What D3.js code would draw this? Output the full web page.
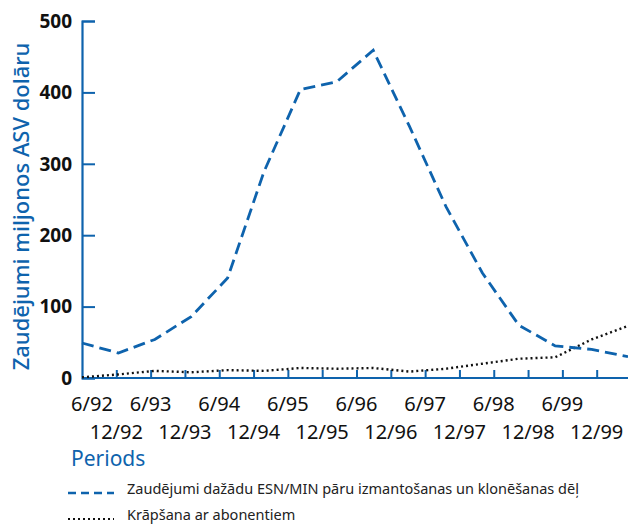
<!DOCTYPE html>
<html>
<head>
<meta charset="utf-8">
<script src="https://cdn.jsdelivr.net/npm/d3@7"></script>
<style>
  html, body { margin: 0; padding: 0; background: #fff; }
  svg { display: block; font-family: "Noto Sans", sans-serif; }
</style>
</head>
<body>
<div id="chart"></div>
<script>
// Half-year periods, June and December, 1992-1999.
const periods = ['6/92','12/92','6/93','12/93','6/94','12/94','6/95','12/95',
                 '6/96','12/96','6/97','12/97','6/98','12/98','6/99','12/99'];
// Losses from ESN/MIN pair use and cloning (million USD).
const cloningLoss = [49, 35, 54, 86, 140, 289, 404, 415, 459, 352, 240, 147, 74, 45, 40, 30];
// Subscription fraud (million USD).
const subscriptionFraud = [1, 5, 10, 8, 11, 10, 14, 13, 14, 9, 13, 20, 27, 29, 54, 73];
const yTicks = [0, 100, 200, 300, 400, 500];

const seriesNames = [
  'Zaudējumi dažādu ESN/MIN pāru izmantošanas un klonēšanas dēļ',
  'Krāpšana ar abonentiem'
];

(function(){
  const width = 628, height = 528;
  const blue = '#0e63ad';
  const svg = d3.select('#chart').append('svg')
    .attr('width', width).attr('height', height);

  const x0 = 82, x1 = 628, yTop = 21, yBottom = 378;

  // data points spread across the full plot width
  const x = d3.scaleLinear().domain([0, periods.length - 1]).range([x0, x1]);
  // tick slots on the axis are slightly narrower than the data spacing
  const xTick = d3.scaleLinear().domain([0, periods.length]).range([x0, 631]);
  const y = d3.scaleLinear().domain([0, 500]).range([yBottom, yTop]);

  // y axis
  const yAxis = d3.axisRight(y).tickValues(yTicks).tickSize(13).tickFormat('');
  const gy = svg.append('g').attr('transform', `translate(${x0},0)`).call(yAxis);
  gy.select('.domain').attr('stroke', blue).attr('stroke-width', 2.2);
  gy.selectAll('.tick line').attr('stroke', blue).attr('stroke-width', 2);

  svg.append('g').selectAll('text')
    .data(yTicks)
    .join('text')
    .attr('x', 72)
    .attr('y', d => y(d))
    .attr('dy', '0.36em')
    .attr('text-anchor', 'end')
    .attr('font-size', 19)
    .attr('font-weight', 700)
    .attr('fill', '#111')
    .text(d => d);

  // x axis
  const xAxis = d3.axisTop(xTick)
    .tickValues(d3.range(1, periods.length))
    .tickSize(8).tickFormat('');
  const gx = svg.append('g').attr('transform', `translate(0,${yBottom})`).call(xAxis);
  gx.select('.domain').attr('d', `M${x0},0H${x1}`).attr('stroke', blue).attr('stroke-width', 2.2);
  gx.selectAll('.tick line').attr('stroke', blue).attr('stroke-width', 2);

  svg.append('g').selectAll('text')
    .data(periods)
    .join('text')
    .attr('x', (d, i) => xTick(i) + (i === 0 ? 10 : 0))
    .attr('y', (d, i) => i % 2 === 0 ? 411 : 439)
    .attr('text-anchor', 'middle')
    .attr('font-size', 20)
    .attr('fill', '#111')
    .text(d => d);

  // axis titles
  svg.append('text')
    .attr('x', 71).attr('y', 466)
    .attr('font-size', 21)
    .attr('fill', blue)
    .text('Periods');

  svg.append('text')
    .attr('transform', `translate(29,${(40 + 373) / 2}) rotate(-90)`)
    .attr('text-anchor', 'middle')
    .attr('font-size', 22)
    .attr('font-weight', 500)
    .attr('fill', blue)
    .text('Zaudējumi miljonos ASV dolāru');

  // lines
  const line = d3.line().x((d, i) => x(i)).y(d => y(d));

  svg.append('path')
    .datum(subscriptionFraud)
    .attr('d', line)
    .attr('fill', 'none')
    .attr('stroke', '#111')
    .attr('stroke-width', 2.4)
    .attr('stroke-dasharray', '2,3');

  svg.append('path')
    .datum(cloningLoss)
    .attr('d', line)
    .attr('fill', 'none')
    .attr('stroke', blue)
    .attr('stroke-width', 2.8)
    .attr('stroke-dasharray', '12,6');

  // legend
  const legend = svg.append('g');
  const styles = [
    {stroke: blue, width: 2.6, dash: '8,5'},
    {stroke: '#111', width: 2.2, dash: '2,3'}
  ];
  seriesNames.forEach((name, i) => {
    const ly = 493 + i * 26;
    legend.append('line')
      .attr('x1', 68).attr('x2', 114)
      .attr('y1', ly).attr('y2', ly)
      .attr('stroke', styles[i].stroke)
      .attr('stroke-width', styles[i].width)
      .attr('stroke-dasharray', styles[i].dash);
    legend.append('text')
      .attr('x', 127).attr('y', ly)
      .attr('dy', '0.1em')
      .attr('font-size', 14.5)
      .attr('fill', '#222')
      .text(name);
  });
})();
</script>
</body>
</html>
